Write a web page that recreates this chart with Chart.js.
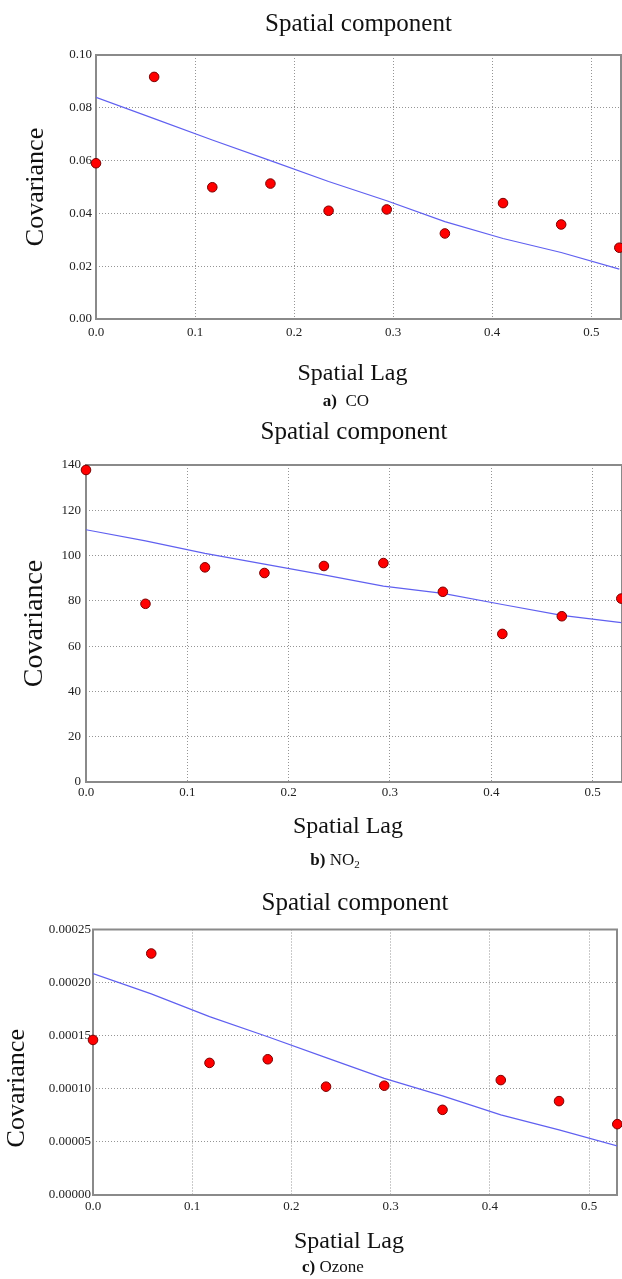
<!DOCTYPE html>
<html>
<head>
<meta charset="utf-8">
<title>Spatial component</title>
<script src="https://cdn.jsdelivr.net/npm/chart.js@4.4.1/dist/chart.umd.min.js"></script>
<style>
    html, body { margin: 0; padding: 0; background: #fff; }
    body {
        width: 622px; height: 1279px; position: relative; overflow: hidden;
        font-family: "Liberation Serif", "Times New Roman", serif; color: #111;
    }
    canvas { position: absolute; left: 0; }
    .caption {
        position: absolute; font-size: 17px; white-space: pre;
        transform: translate(-50%, -50%); line-height: 1;
    }
    .caption sub { font-size: 11px; vertical-align: -3px; }
</style>
</head>
<body>
<canvas id="chartCO" width="622" height="392" style="top:0"></canvas>
<div class="caption" style="left:346px;top:400px"><b>a)</b>  CO</div>

<canvas id="chartNO2" width="622" height="440" style="top:410px"></canvas>
<div class="caption" style="left:335px;top:860px"><b>b)</b> NO<sub>2</sub></div>

<canvas id="chartO3" width="622" height="385" style="top:880px"></canvas>
<div class="caption" style="left:333px;top:1266px"><b>c)</b> Ozone</div>

<script>
// Spatial lags (shared by all three panels)
const lags = [0, 0.0587, 0.1174, 0.1761, 0.2348, 0.2935, 0.3522, 0.4109, 0.4696, 0.5283];
const lagTicks = [0, 0.1, 0.2, 0.3, 0.4, 0.5];

// a) CO
const coEmpirical = [0.0590, 0.0917, 0.0499, 0.0513, 0.0410, 0.0415, 0.0324, 0.0439, 0.0358, 0.0270];
const coFitted = [0.0840, 0.0759, 0.0678, 0.0600, 0.0521, 0.0448, 0.0369, 0.0305, 0.0252, 0.0189];
const coTicks = [0, 0.02, 0.04, 0.06, 0.08, 0.10];

// b) NO2
const no2Empirical = [137.8, 78.7, 94.8, 92.3, 95.4, 96.7, 84.0, 65.4, 73.2, 81.0];
const no2Fitted = [111.4, 106.5, 101.0, 96.2, 91.5, 86.5, 83.3, 78.4, 73.6, 70.4];
const no2Ticks = [0, 20, 40, 60, 80, 100, 120, 140];

// c) Ozone
const ozEmpirical = [0.0001460, 0.0002274, 0.0001244, 0.0001278, 0.0001020, 0.0001029, 0.0000802, 0.0001082, 0.0000884, 0.0000667];
const ozFitted = [0.0002085, 0.0001894, 0.0001680, 0.0001490, 0.0001294, 0.0001098, 0.0000934, 0.0000755, 0.0000613, 0.0000462];
const ozTicks = [0, 0.00005, 0.0001, 0.00015, 0.0002, 0.00025];

const FONT = '"Liberation Serif", "Times New Roman", serif';

// Grey frame round the whole plot area (top and right too)
const plotFrame = {
    id: 'plotFrame',
    beforeDatasetsDraw(chart) {
        const { ctx, chartArea: a } = chart;
        ctx.save();
        ctx.strokeStyle = '#8a8a8a';
        ctx.lineWidth = 2;
        ctx.strokeRect(a.left, a.top, a.right - a.left, a.bottom - a.top);
        ctx.restore();
    }
};

function toPoints(xs, ys) {
    return xs.map((x, i) => ({ x: x, y: ys[i] }));
}

function buildChart(id, cfg) {
    const ctx = document.getElementById(id).getContext('2d');
    return new Chart(ctx, {
        type: 'scatter',
        data: {
            datasets: [
                {
                    label: 'Empirical',
                    data: toPoints(lags, cfg.empirical),
                    pointRadius: 4.8,
                    pointBackgroundColor: '#ff0000',
                    pointBorderColor: '#7a0000',
                    pointBorderWidth: 1,
                    clip: false
                },
                {
                    label: 'Fitted',
                    data: toPoints(lags, cfg.fitted),
                    showLine: true,
                    borderColor: '#6060f0',
                    borderWidth: 1.2,
                    pointRadius: 0,
                    tension: 0
                }
            ]
        },
        options: {
            responsive: false,
            animation: false,
            events: [],
            layout: { autoPadding: false, padding: { left: 0, right: cfg.padRight, top: 0, bottom: 0 } },
            plugins: {
                legend: { display: false },
                tooltip: { enabled: false },
                title: {
                    display: true,
                    text: 'Spatial component',
                    fullSize: false,
                    color: '#111',
                    font: { family: FONT, size: 25, weight: 'normal' },
                    padding: cfg.titlePad
                }
            },
            scales: {
                x: {
                    type: 'linear',
                    min: 0,
                    max: cfg.xMax,
                    afterFit: (scale) => { scale.height = cfg.xAxisHeight; },
                    afterBuildTicks: (scale) => { scale.ticks = lagTicks.map(v => ({ value: v })); },
                    grid: { color: '#959595', lineWidth: 1, drawTicks: false },
                    border: { display: false, dash: [1, 2] },
                    ticks: {
                        color: '#222',
                        padding: cfg.xTickPad,
                        font: { family: FONT, size: 13 },
                        callback: (v) => Number(v).toFixed(1)
                    },
                    title: {
                        display: true,
                        // trailing space nudges the label a little left, as in the source figure
                        text: 'Spatial Lag\u2002',
                        color: '#111',
                        font: { family: FONT, size: 24 },
                        padding: { top: 0, bottom: cfg.xTitlePad }
                    }
                },
                y: {
                    type: 'linear',
                    min: 0,
                    max: cfg.yTicks[cfg.yTicks.length - 1],
                    afterFit: (scale) => { scale.width = cfg.yAxisWidth; },
                    afterBuildTicks: (scale) => { scale.ticks = cfg.yTicks.map(v => ({ value: v })); },
                    grid: { color: '#959595', lineWidth: 1, drawTicks: false },
                    border: { display: false, dash: [1, 2] },
                    ticks: {
                        color: '#222',
                        padding: cfg.yTickPad,
                        font: { family: FONT, size: 13 },
                        callback: (v) => Number(v).toFixed(cfg.yDecimals)
                    },
                    title: {
                        display: true,
                        text: cfg.yTitle,
                        color: '#111',
                        font: { family: FONT, size: cfg.yTitleSize },
                        padding: { top: cfg.yTitlePad, bottom: 0 }
                    }
                }
            }
        },
        plugins: [plotFrame]
    });
}

buildChart('chartCO', {
    empirical: coEmpirical, fitted: coFitted, yTicks: coTicks, yDecimals: 2,
    xMax: 0.530, padRight: 1,
    titlePad: { top: 9, bottom: 16 },
    xAxisHeight: 73, xTickPad: 6, xTitlePad: 4,
    yAxisWidth: 96, yTickPad: 4, yTitle: 'Covariance', yTitleSize: 26, yTitlePad: 21
});

buildChart('chartNO2', {
    empirical: no2Empirical, fitted: no2Fitted, yTicks: no2Ticks, yDecimals: 0,
    xMax: 0.529, padRight: 0,
    titlePad: { top: 7, bottom: 18 },
    xAxisHeight: 68, xTickPad: 3, xTitlePad: 8.6,
    yAxisWidth: 86, yTickPad: 5, yTitle: 'Covariance', yTitleSize: 28, yTitlePad: 18
});

buildChart('chartO3', {
    empirical: ozEmpirical, fitted: ozFitted, yTicks: ozTicks, yDecimals: 5,
    xMax: 0.528, padRight: 5,
    titlePad: { top: 8, bottom: 11.5 },
    xAxisHeight: 70, xTickPad: 4, xTitlePad: 8.6,
    // the source sets this axis label lower than the plot centre
    yAxisWidth: 93, yTickPad: 2, yTitle: 'Covariance\u2003\u2003', yTitleSize: 26, yTitlePad: 2
});
</script>
</body>
</html>
